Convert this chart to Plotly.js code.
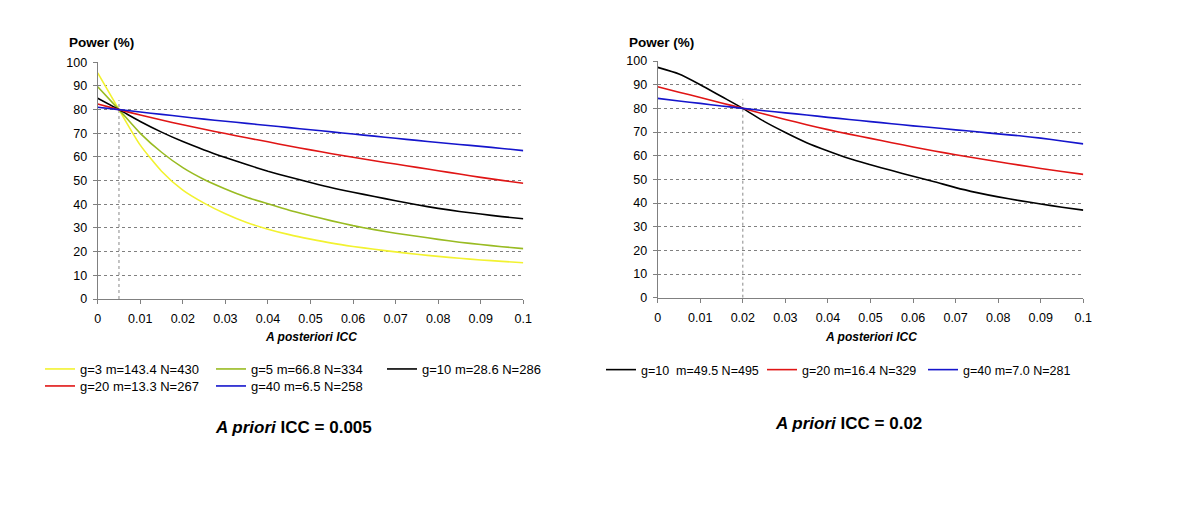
<!DOCTYPE html>
<html>
<head>
<meta charset="utf-8">
<script src="https://cdn.plot.ly/plotly-3.0.1.min.js"></script>
<style>html,body{margin:0;padding:0;background:#fff;}#chart{width:1200px;height:507px;}</style>
</head>
<body>
<div id="chart"></div>
<script>
// A posteriori ICC values (x axis)
const icc = [0,0.005,0.01,0.015,0.02,0.025,0.03,0.035,0.04,0.045,0.05,0.055,0.06,0.065,0.07,0.075,0.08,0.085,0.09,0.095,0.1];

// Left panel: a priori ICC = 0.005
const leftApriori = 0.005;
const leftNames = ["g=3 m=143.4 N=430","g=5 m=66.8 N=334","g=10 m=28.6 N=286","g=20 m=13.3 N=267","g=40 m=6.5 N=258"];
const left_g3  = [95.5,80,65,54,46,40.5,36,32.3,29.5,27.2,25.3,23.6,22.2,21,19.9,18.9,18,17.2,16.5,15.9,15.3];
const left_g5  = [89.7,80,70,62,55.5,50.5,46.5,43,40.2,37.5,35.2,33,31,29.3,27.8,26.5,25.2,24,23,22.1,21.3];
const left_g10 = [84.8,80,75,70.5,66.5,63,59.8,56.8,54,51.5,49.2,47,45.1,43.3,41.5,39.8,38.3,37,35.9,34.8,33.9];
const left_g20 = [82.4,80,77.7,75.6,73.6,71.7,69.9,68.1,66.4,64.6,63,61.4,59.9,58.4,57,55.6,54.2,52.8,51.4,50.1,48.9];
const left_g40 = [81,80,79,78,77,76,75.1,74.2,73.3,72.4,71.5,70.6,69.7,68.8,67.9,67,66.1,65.3,64.5,63.6,62.7];

// Right panel: a priori ICC = 0.02
const rightApriori = 0.02;
const rightNames = ["g=10\u00a0\u00a0m=49.5 N=495","g=20 m=16.4 N=329","g=40 m=7.0 N=281"];
const right_g10 = [97.3,94.5,90,85,80,74.5,69.8,65.5,62,58.8,56.2,53.7,51.3,49,46.5,44.4,42.6,41,39.6,38.2,37];
const right_g20 = [89.1,86.8,84.6,82.3,80,77.6,75.3,73.1,71,69.1,67.3,65.5,63.7,62,60.4,58.9,57.4,56,54.6,53.3,52.1];
const right_g40 = [84.2,83.1,82.1,81,80,79,78.1,77.2,76.2,75.3,74.4,73.5,72.6,71.8,70.9,70.1,69.2,68.4,67.4,66.2,65];

// Reference (a priori) marker line extent
const markerY = [0, 84];

const yTicks = [0,10,20,30,40,50,60,70,80,90,100];
const xTicks = [0,0.01,0.02,0.03,0.04,0.05,0.06,0.07,0.08,0.09,0.1];
const xTickText = ["0","0.01","0.02","0.03","0.04","0.05","0.06","0.07","0.08","0.09","0.1"];

const colors = {g3:"#f2f230", g5:"#99bb22", g10:"#000000", g20:"#e01515", g40:"#1515cc"};

function line(x, y, name, color, xa, ya, legend) {
  return {x:x, y:y, name:name, type:"scatter", mode:"lines",
    line:{color:color, width:1.6, shape:"spline", smoothing:0.6},
    xaxis:xa, yaxis:ya, legend:legend, hoverinfo:"skip"};
}

const data = [
  {x:[leftApriori,leftApriori], y:markerY, type:"scatter", mode:"lines", showlegend:false,
   line:{color:"#888", width:1, dash:"dot"}, xaxis:"x", yaxis:"y", hoverinfo:"skip"},
  {x:[rightApriori,rightApriori], y:markerY, type:"scatter", mode:"lines", showlegend:false,
   line:{color:"#888", width:1, dash:"dot"}, xaxis:"x2", yaxis:"y2", hoverinfo:"skip"},
  line(icc, left_g3,  leftNames[0], colors.g3,  "x","y","legend"),
  line(icc, left_g5,  leftNames[1], colors.g5,  "x","y","legend"),
  line(icc, left_g10, leftNames[2], colors.g10, "x","y","legend"),
  line(icc, left_g20, leftNames[3], colors.g20, "x","y","legend2"),
  line(icc, left_g40, leftNames[4], colors.g40, "x","y","legend2"),
  line(icc, right_g10, rightNames[0], colors.g10, "x2","y2","legend3"),
  line(icc, right_g20, rightNames[1], colors.g20, "x2","y2","legend3"),
  line(icc, right_g40, rightNames[2], colors.g40, "x2","y2","legend3")
];

const W = 1200, H = 507;
const px = v => v / W, py = v => (H - v) / H;
const tickFont = {family:"Liberation Sans, Arial, sans-serif", size:12.5, color:"#000"};

function xaxis(domain, anchor) {
  return {domain:domain, anchor:anchor, range:[0,0.1], tickmode:"array", tickvals:xTicks, ticktext:xTickText,
    showgrid:false, zeroline:false, showline:true, linecolor:"#808080", linewidth:1,
    ticks:"outside", ticklen:4, tickcolor:"#808080", tickfont:tickFont, ticklabelstandoff:4, fixedrange:true};
}
function yaxis(domain, anchor) {
  return {domain:domain, anchor:anchor, range:[0,100], tickmode:"array", tickvals:yTicks,
    showgrid:true, gridcolor:"#808080", griddash:"dot", gridwidth:1, zeroline:false,
    showline:true, linecolor:"#808080", linewidth:1,
    ticks:"outside", ticklen:4, tickcolor:"#808080", tickfont:tickFont, ticklabelstandoff:3, fixedrange:true};
}

const legendBase = {orientation:"h", font:{family:"Liberation Sans, Arial, sans-serif", size:13, color:"#000"},
  bgcolor:"rgba(0,0,0,0)", xanchor:"left", yanchor:"middle", entrywidthmode:"pixels", tracegroupgap:0, itemwidth:30};

const layout = {
  width:W, height:H, margin:{l:0,r:0,t:0,b:0}, paper_bgcolor:"#fff", plot_bgcolor:"#fff",
  xaxis: xaxis([px(97.7), px(523.3)], "y"),
  yaxis: yaxis([py(299), py(62.3)], "x"),
  xaxis2: xaxis([px(657.7), px(1083.3)], "y2"),
  yaxis2: yaxis([py(297.7), py(61)], "x2"),
  legend:  Object.assign({}, legendBase, {x:px(40), y:py(369), entrywidth:126}),
  legend2: Object.assign({}, legendBase, {x:px(40), y:py(386), entrywidth:126}),
  legend3: Object.assign({}, legendBase, {x:px(601), y:py(370), entrywidth:116,
    font:{family:"Liberation Sans, Arial, sans-serif", size:12.5, color:"#000"}}),
  annotations: [
    {text:"<b>Power (%)</b>", xref:"paper", yref:"paper", x:px(67), y:py(42.5), xanchor:"left", yanchor:"middle", showarrow:false,
     font:{family:"Liberation Sans, Arial, sans-serif", size:13.5, color:"#000"}},
    {text:"<b>Power (%)</b>", xref:"paper", yref:"paper", x:px(627), y:py(43), xanchor:"left", yanchor:"middle", showarrow:false,
     font:{family:"Liberation Sans, Arial, sans-serif", size:13.5, color:"#000"}},
    {text:"<b><i>A posteriori ICC</i></b>", xref:"paper", yref:"paper", x:px(310.5), y:py(337), xanchor:"center", yanchor:"middle", showarrow:false,
     font:{family:"Liberation Sans, Arial, sans-serif", size:12, color:"#000"}},
    {text:"<b><i>A posteriori ICC</i></b>", xref:"paper", yref:"paper", x:px(871), y:py(337), xanchor:"center", yanchor:"middle", showarrow:false,
     font:{family:"Liberation Sans, Arial, sans-serif", size:12, color:"#000"}},
    {text:"<b><i>A priori</i> ICC = 0.005</b>", xref:"paper", yref:"paper", x:px(293), y:py(427), xanchor:"center", yanchor:"middle", showarrow:false,
     font:{family:"Liberation Sans, Arial, sans-serif", size:17, color:"#000"}},
    {text:"<b><i>A priori</i> ICC = 0.02</b>", xref:"paper", yref:"paper", x:px(848), y:py(423), xanchor:"center", yanchor:"middle", showarrow:false,
     font:{family:"Liberation Sans, Arial, sans-serif", size:17, color:"#000"}}
  ]
};

Plotly.newPlot("chart", data, layout, {staticPlot:true, displayModeBar:false});
</script>
</body>
</html>
